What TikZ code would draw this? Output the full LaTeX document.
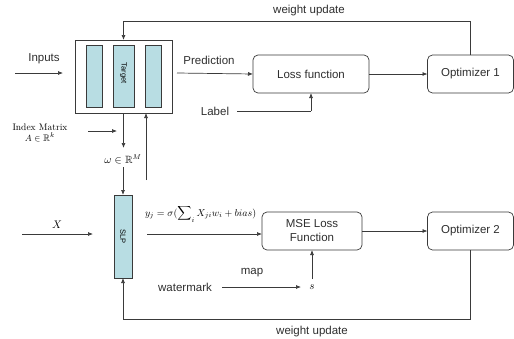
\documentclass[tikz,border=0pt]{standalone}
\usepackage{amssymb}
\usepackage{fontspec}
\setsansfont{Liberation Sans}
\usetikzlibrary{arrows.meta}
\definecolor{bar}{HTML}{B8DDE3}
\definecolor{ln}{HTML}{3A3A3A}
\begin{document}
\begin{tikzpicture}[x=1pt,y=-1pt,
  every node/.style={inner sep=0pt,outer sep=0pt},
  lab/.style={font=\sffamily\fontsize{11.5}{13}\selectfont,text=ln!80!black},
  mth/.style={font=\fontsize{10.5}{12}\selectfont,text=black},
  rbox/.style={draw=ln,rounded corners=5pt,line width=0.7pt,font=\sffamily\fontsize{11.5}{13}\selectfont,align=center,text=ln!80!black},
  barbox/.style={draw=ln,fill=bar,line width=0.7pt},
  conn/.style={draw=ln,line width=0.7pt},
  arr/.style={conn,-{Latex[length=5pt,width=4pt]}}]
\useasboundingbox (0,0) rectangle (514,338);
% Target block
\node[draw=ln,line width=0.7pt,minimum width=97pt,minimum height=73pt] (tgt) at (123.5,76.5) {};
\node[barbox,minimum width=16pt,minimum height=62pt] (b1) at (94,76) {};
\node[barbox,minimum width=21pt,minimum height=62pt] (b2) at (123.5,76) {};
\node[barbox,minimum width=16pt,minimum height=62pt] (b3) at (153,76) {};
\node[rotate=-90,font=\sffamily\fontsize{7.5}{9}\selectfont] at (123.5,73) {Target};
% boxes
\node[rbox,minimum width=116pt,minimum height=38pt] (loss) at (311,74) {Loss function};
\node[rbox,minimum width=86pt,minimum height=38pt] (opt1) at (470.5,74) {Optimizer 1};
\node[rbox,minimum width=100pt,minimum height=38pt] (mse) at (312,231) {MSE Loss\\[1pt]Function};
\node[rbox,minimum width=86pt,minimum height=38pt] (opt2) at (470.5,231) {Optimizer 2};
\node[barbox,minimum width=18pt,minimum height=83pt] (slp) at (123,236.5) {};
\node[rotate=-90,font=\sffamily\fontsize{7.5}{9}\selectfont] at (123,236.5) {SLP};
% labels
\node[lab] (inl) at (44,59) {Inputs};
\coordinate (in0) at (15,73);
\node[lab] (predl) at (209,60) {Prediction};
\node[lab] (labl) at (215,111) {Label};
\node[lab] (wu1) at (309,11) {weight update};
\node[lab] (wu2) at (312,332) {weight update};
\node[font=\fontsize{9.5}{11.5}\selectfont,align=center,text=black] (idx) at (40,133) {Index Matrix\\$A\in\mathbb{R}^k$};
\node[mth] (omega) at (123,159) {$\omega\in\mathbb{R}^M$};
\node[mth] (xl) at (57,225) {$X$};
\coordinate (x0) at (22,234);
\node[mth,anchor=west,font=\fontsize{9.8}{12}\selectfont] (form) at (145,214) {$y_j=\sigma(\displaystyle\sum\nolimits_i X_{ji}w_i+bias)$};
\node[lab] (wm) at (185,287) {watermark};
\node[lab] (mapl) at (252,273) {map};
\node[mth] (s) at (312,287.5) {$s$};
% connectors
\draw[arr] (in0) -- (63,73);
\draw[arr] (177,73) -- (loss.west);
\draw[arr] (loss.east |- 0,74) -- (opt1.west |- 0,74);
\draw[conn] (labl.east) ++(8,0) coordinate (lab0) -- (lab0 -| loss.south);
\draw[arr] (311,111) -- (loss.south);
\draw[arr] (opt1.north) |- (123.5,21) -- (tgt.north);
\draw[arr] (88,131) -- (117,131);
\draw[arr] (tgt.south) -- (123.5,148);
\draw[arr] (146,180) -- (146,113);
\draw[arr] (123,167) -- (slp.north);
\draw[arr] (x0) -- (93,234);
\draw[arr] (147,234) -- (mse.west |- 0,234);
\draw[arr] (mse.east) -- (opt2.west);
\draw[arr] (222,287) -- (301,287);
\draw[arr] (312,279) -- (mse.south);
\draw[arr] (opt2.south) |- (123,319) -- (slp.south);
\end{tikzpicture}
\end{document}
